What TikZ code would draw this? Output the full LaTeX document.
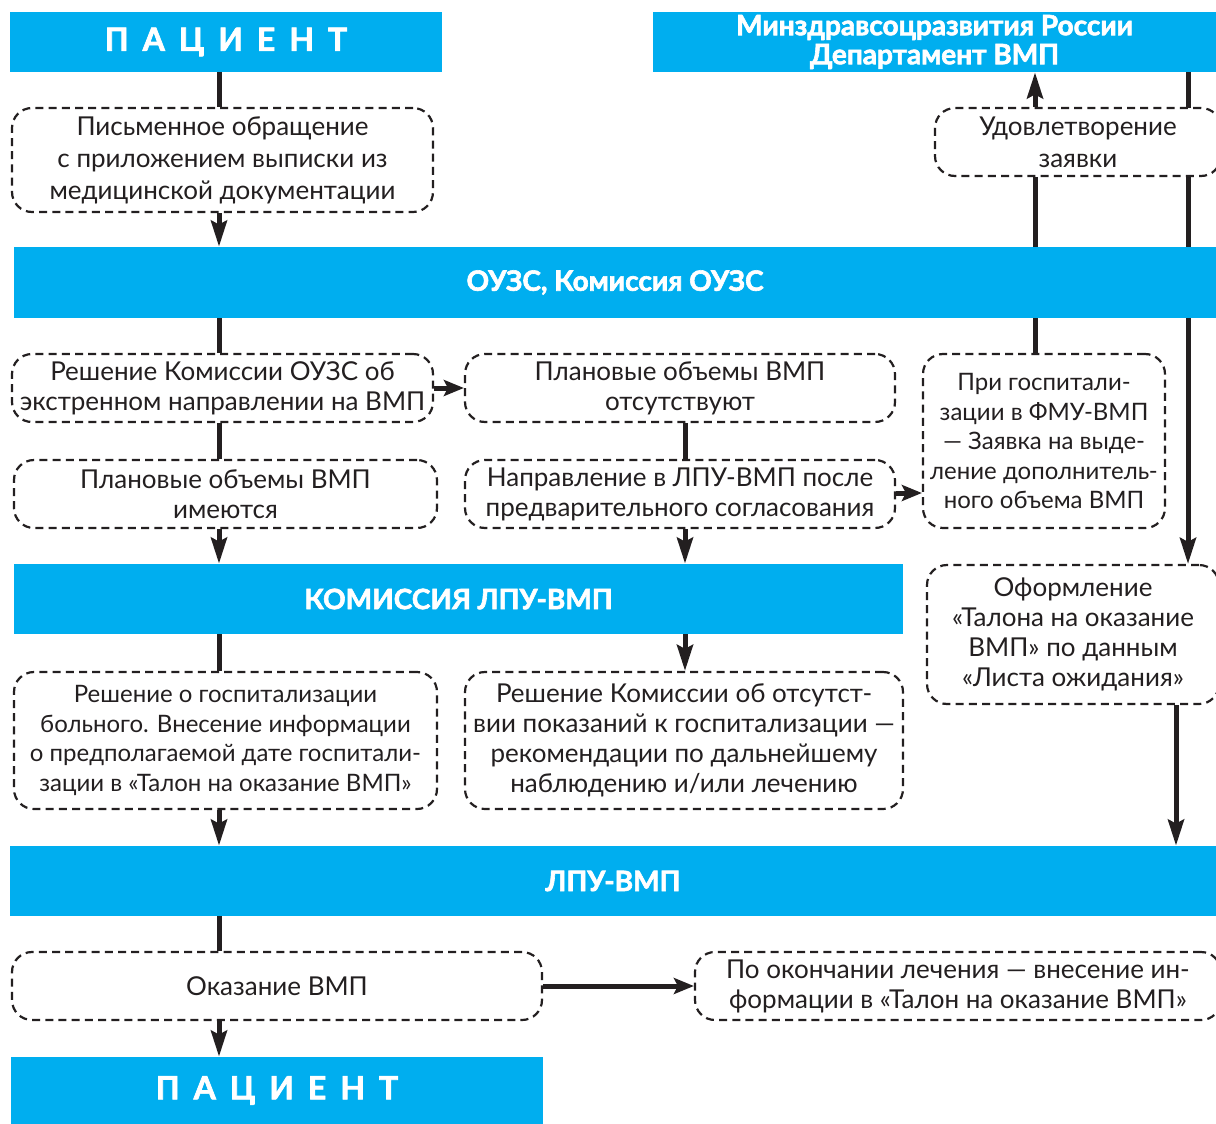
\documentclass[tikz,border=0pt]{standalone}
\usepackage{fontspec}
\setmainfont{Lato}
\newfontfamily\headfont[FakeBold=2.2]{Lato}
\usetikzlibrary{arrows.meta,backgrounds}
\definecolor{barblue}{RGB}{0,174,239}
\definecolor{ink}{RGB}{35,31,32}
\newcommand{\spacedword}{П\kern7ptА\kern7ptЦ\kern7ptИ\kern7ptЕ\kern7ptН\kern7ptТ}
\begin{document}
\begin{tikzpicture}[x=0.5pt,y=-0.5pt,
  bar/.style={rectangle, fill=barblue, inner sep=0pt, text=white, align=center,
    font=\headfont\bfseries\fontsize{14}{14.5}\selectfont},
  bigbar/.style={bar, font=\headfont\bfseries\fontsize{16}{18}\selectfont},
  note/.style={rectangle, rounded corners=10pt, draw=ink, fill=white, line width=1.1pt,
    dash pattern=on 4pt off 2.6pt, inner sep=0pt, text=ink, align=center,
    font=\fontsize{13}{15}\selectfont},
  tallnote/.style={note, font=\fontsize{13}{16}\selectfont},
  smallnote/.style={note, font=\fontsize{12}{14.75}\selectfont},
  link/.style={draw=ink, line width=2.5pt},
  arr/.style={link, -{Stealth[length=13pt,width=8pt,inset=2pt]}},
  harr/.style={link, -{Stealth[length=10pt,width=8pt,inset=2pt]}},
]
\useasboundingbox (0,0) rectangle (1216,1124);
\clip (0,0) rectangle (1216,1124);

% column and row guides for the connectors
\coordinate (c1) at (219,0);
\coordinate (c2) at (685,0);
\coordinate (c3) at (1035,0);
\coordinate (c4) at (1188,0);
\coordinate (c5) at (1176,0);
\coordinate (r2) at (0,493);

% blue bars
\node[bigbar, minimum width=216pt, minimum height=30pt] (pat1) at (226,42) {\spacedword};
\node[bar, minimum width=281.5pt, minimum height=30pt] (mz) at (934.5,42)
  {Минздравсоцразвития России\\Департамент ВМП};
\node[bar, minimum width=601pt, minimum height=35.5pt] (ouzs) at (615,282.5) {ОУЗС, Комиссия ОУЗС};
\node[bar, minimum width=444.5pt, minimum height=35pt] (klpu) at (458.5,599) {КОМИССИЯ ЛПУ-ВМП};
\node[bar, minimum width=603pt, minimum height=35pt] (lpu) at (613,881) {ЛПУ-ВМП};
\node[bigbar, minimum width=266pt, minimum height=33.5pt] (pat2) at (277,1090.5) {\spacedword};

% dashed notes
\node[tallnote, minimum width=210.5pt, minimum height=52pt] (pis) at (222.5,160)
  {Письменное обращение\\с приложением выписки из\\медицинской документации};
\node[tallnote, minimum width=143pt, minimum height=34pt] (udov) at (1078,142)
  {Удовлетворение\\заявки};
\node[note, minimum width=210.5pt, minimum height=34pt] (resh) at (222.5,388)
  {Решение Комиссии ОУЗС об\\экстренном направлении на ВМП};
\node[note, minimum width=215pt, minimum height=34pt] (plotc) at (680,388)
  {Плановые объемы ВМП\\отсутствуют};
\node[smallnote, minimum width=121pt, minimum height=87pt] (prig) at (1044,441)
  {При госпитали-\\зации в ФМУ-ВМП\\— Заявка на выде-\\ление дополнитель-\\ного объема ВМП};
\node[note, minimum width=211.5pt, minimum height=34pt] (plim) at (225.5,494)
  {Плановые объемы ВМП\\имеются};
\node[note, minimum width=215pt, minimum height=34pt] (napr) at (680,494)
  {Направление в ЛПУ-ВМП после\\предварительного согласования};
\node[note, minimum width=146pt, minimum height=69.5pt] (oform) at (1073,634.5)
  {Оформление\\«Талона на оказание\\ВМП» по данным\\«Листа ожидания»};
\node[smallnote, minimum width=211.5pt, minimum height=68.5pt] (reshg) at (225.5,740.5)
  {Решение о госпитализации\\больного. Внесение информации\\о предполагаемой дате госпитали-\\зации в «Талон на оказание ВМП»};
\node[note, minimum width=219pt, minimum height=68.5pt] (reshot) at (684,740.5)
  {Решение Комиссии об отсутст-\\вии показаний к госпитализации —\\рекомендации по дальнейшему\\наблюдению и/или лечению};
\node[note, minimum width=265pt, minimum height=34pt] (okaz) at (277,986) {Оказание ВМП};
\node[note, minimum width=263pt, minimum height=34pt] (pook) at (958,986)
  {По окончании лечения — внесение ин-\\формации в «Талон на оказание ВМП»};

% connectors, kept behind the boxes
\begin{pgfonlayer}{background}
\draw[link] (pat1.south -| c1) -- (pis.north -| c1);
\draw[arr]  (pis.south -| c1) -- (ouzs.north -| c1);
\draw[link] (ouzs.south -| c1) -- (resh.north -| c1);
\draw[link] (resh.south -| c1) -- (plim.north -| c1);
\draw[arr]  (plim.south -| c1) -- (klpu.north -| c1);
\draw[harr] (resh.east) -- (plotc.west);
\draw[link] (plotc.south -| c2) -- (napr.north -| c2);
\draw[arr]  (napr.south -| c2) -- (klpu.north -| c2);
\draw[harr] (napr.east |- r2) -- (prig.west |- r2);
\draw[link] (prig.north -| c3) -- (udov.south -| c3);
\draw[arr]  (udov.north -| c3) -- (mz.south -| c3);
\draw[arr]  (mz.south -| c4) -- (oform.north -| c4);
\draw[link] (klpu.south -| c1) -- (reshg.north -| c1);
\draw[arr]  (klpu.south -| c2) -- (reshot.north -| c2);
\draw[arr]  (reshg.south -| c1) -- (lpu.north -| c1);
\draw[arr]  (oform.south -| c5) -- (lpu.north -| c5);
\draw[link] (lpu.south -| c1) -- (okaz.north -| c1);
\draw[arr]  (okaz.south -| c1) -- (pat2.north -| c1);
\draw[harr] (okaz.east) -- (pook.west);
\end{pgfonlayer}
\end{tikzpicture}
\end{document}
